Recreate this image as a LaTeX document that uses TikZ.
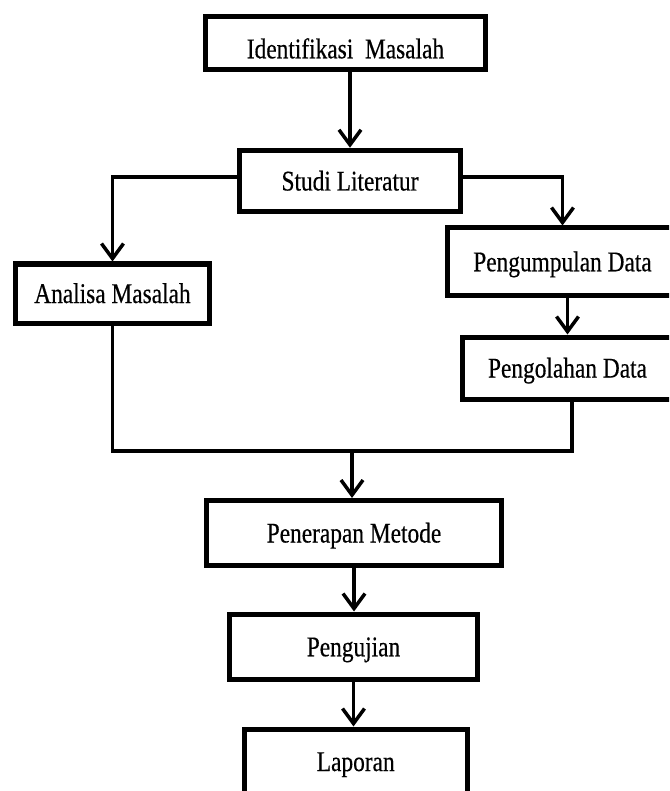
\documentclass[tikz,border=0pt]{standalone}
\usepackage{fontspec}
\setmainfont{Liberation Serif}[FakeStretch=0.82,FakeBold=0.4]
\usetikzlibrary{arrows.meta}
\begin{document}
\begin{tikzpicture}[x=1pt,y=-1pt,
  box/.style={draw=black, line width=5pt, inner sep=0pt, align=center,
    font=\fontsize{28.5}{30}\selectfont, text height=19pt, text depth=0pt},
  conn/.style={draw=black, line width=3.5pt, line join=miter},
  arr/.style={conn, -{Straight Barb[length=15pt,width=22pt,line width=3.5pt]}}]
\useasboundingbox (0,0) rectangle (669,791);
\clip (0,0) rectangle (669,791);
\fill[white] (0,0) rectangle (669,791);
% boxes
\node[box, minimum width=280pt, minimum height=53pt, text height=30.6pt] (A) at (345.5,43) {Identifikasi\ \ Masalah};
\node[box, minimum width=221pt, minimum height=61.5pt] (B) at (350,181) {Studi Literatur};
\node[box, minimum width=194pt, minimum height=59pt] (C) at (112.5,293.5) {Analisa Masalah};
\node[box, minimum width=230pt, minimum height=67.5pt] (D) at (562.5,261.75) {Pengumpulan Data};
\node[box, minimum width=210pt, minimum height=62pt] (E) at (567.5,368) {Pengolahan Data};
\node[box, minimum width=295pt, minimum height=65pt] (F) at (354,533) {Penerapan Metode};
\node[box, minimum width=248pt, minimum height=65.5pt] (G) at (353.5,646.75) {Pengujian};
\node[box, minimum width=223.5pt, minimum height=65pt] (H) at (355.75,761.5) {Laporan};
\coordinate (m) at (352,451);
% connectors
\draw[arr] (B.north |- A.south) -- (B.north);
\draw[arr] ([yshift=4pt]B.west) -| (C.north);
\draw[arr] ([yshift=4pt]B.east) -| (D.north);
\draw[arr] (E.north |- D.south) -- (E.north);
\draw[conn] (C.south) |- (m) -| ([xshift=4.5pt]E.south);
\draw[arr] (m) -- (F.north -| m);
\draw[arr] (F.south) -- (F.south |- G.north);
\draw[arr] (G.south) -- (G.south |- H.north);
\end{tikzpicture}
\end{document}
